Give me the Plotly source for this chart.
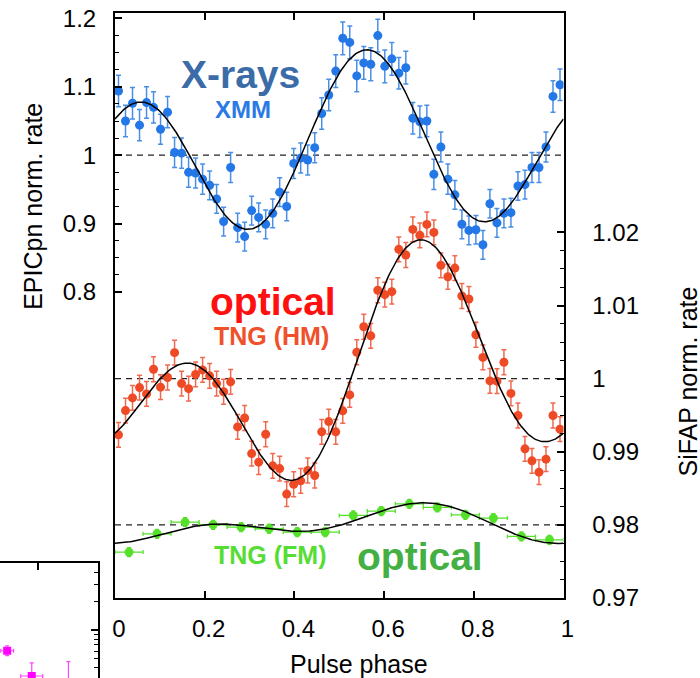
import numpy as np
import plotly.graph_objects as go

# ---------------- data ----------------
N_BINS = 64
phase = (np.arange(N_BINS) + 0.5) / N_BINS

# XMM EPIC-pn normalised rate (left axis)
xray_rate = [1.094, 1.050, 1.076, 1.044, 1.077, 1.070, 1.038, 1.063, 1.004, 1.003,
             0.975, 0.974, 0.965, 0.956, 0.936, 0.903, 0.982, 0.894, 0.881, 0.919,
             0.909, 0.899, 0.915, 0.946, 0.925, 0.988, 0.996, 0.993, 1.011, 1.061,
             1.088, 1.123, 1.171, 1.165, 1.116, 1.135, 1.133, 1.175, 1.130, 1.141,
             1.120, 1.128, 1.054, 1.049, 1.050, 0.972, 1.012, 0.965, 0.942, 0.899,
             0.890, 0.891, 0.869, 0.929, 0.901, 0.915, 0.916, 0.955, 0.957, 0.982,
             0.982, 1.012, 1.086, 1.103]
xray_err = [0.023, 0.023, 0.023, 0.023, 0.023, 0.023, 0.022, 0.023, 0.022, 0.022,
            0.022, 0.022, 0.022, 0.021, 0.021, 0.021, 0.022, 0.021, 0.021, 0.021,
            0.021, 0.021, 0.021, 0.021, 0.021, 0.022, 0.022, 0.022, 0.022, 0.023,
            0.023, 0.024, 0.024, 0.024, 0.023, 0.024, 0.024, 0.024, 0.024, 0.024,
            0.023, 0.024, 0.023, 0.023, 0.023, 0.022, 0.022, 0.022, 0.021, 0.021,
            0.021, 0.021, 0.021, 0.021, 0.021, 0.021, 0.021, 0.021, 0.021, 0.022,
            0.022, 0.022, 0.023, 0.023]

# TNG SiFAP high-resolution mode normalised rate (right axis)
hm_rate = [0.99231, 0.99563, 0.99736, 0.99877, 0.99791, 1.00128, 0.99883, 1.00015, 1.00355, 0.99932,
           0.99863, 1.00058, 1.00119, 1.00038, 0.99932, 0.99820, 0.99956, 0.99340, 0.99462, 0.98975,
           0.98858, 0.99240, 0.98807, 0.98770, 0.98421, 0.98556, 0.98602, 0.98743, 0.98675, 0.99272,
           0.99412, 0.99272, 0.99559, 0.99777, 1.00360, 1.00710, 1.00585, 1.01208, 1.01148, 1.01189,
           1.01768, 1.01690, 1.02041, 1.01959, 1.02109, 1.02000, 1.01549, 1.01393, 1.01512, 1.01130,
           1.01089, 1.00600, 1.00290, 0.99969, 0.99965, 1.00224, 0.99798, 0.99495, 0.99040, 0.98876,
           0.98721, 0.98899, 0.99495, 0.99309]
hm_err = [0.0017] * N_BINS

# TNG SiFAP folding-mode profile, 16 bins, offset to 0.98 (right axis)
FM_BINS = 16
fm_phase = (np.arange(FM_BINS) + 0.5) / FM_BINS
fm_rate = [0.97628, 0.97878, 0.98038, 0.98001, 0.97970, 0.97947, 0.97902, 0.97902,
           0.98129, 0.98189, 0.98288, 0.98238, 0.98138, 0.98093, 0.97842, 0.97796]
fm_err = [0.0006] * FM_BINS
fm_halfbin = [0.5 / FM_BINS] * FM_BINS

# Partial neighbouring panel (log scale)
inset_x = [0.19, 0.84, 1.81]
inset_y = [0.605, 0.328, 0.25]
inset_ey_plus = [0.078, 0.122, 0.214]
inset_ey_minus = [0.068, 0.10, 0.10]
inset_ex = [0.17, 0.29, 0.0]

X_TICKS = [0, 0.2, 0.4, 0.6, 0.8, 1]
X_TICKTEXT = ["0", "0.2", "0.4", "0.6", "0.8", "1"]
L_TICKS = [0.8, 0.9, 1.0, 1.1, 1.2]
L_TICKTEXT = ["0.8", "0.9", "1", "1.1", "1.2"]
R_TICKS = [0.97, 0.98, 0.99, 1.0, 1.01, 1.02]
R_TICKTEXT = ["0.97", "0.98", "0.99", "1", "1.01", "1.02"]
L_MINOR = [0.825, 0.85, 0.875, 0.925, 0.95, 0.975, 1.025, 1.05, 1.075, 1.125, 1.15, 1.175]
R_MINOR = [0.9725, 0.975, 0.9775, 0.9825, 0.985, 0.9875, 0.9925, 0.995, 0.9975,
           1.0025, 1.005, 1.0075, 1.0125, 1.015, 1.0175]


def harmonic_fit(x, y, w, grid, nharm=2):
    """Weighted least-squares Fourier series fit, evaluated on grid."""
    x = np.asarray(x); y = np.asarray(y); w = np.asarray(w)
    def design(p):
        cols = [np.ones_like(p)]
        for k in range(1, nharm + 1):
            cols += [np.cos(2 * np.pi * k * p), np.sin(2 * np.pi * k * p)]
        return np.vstack(cols).T
    A = design(x) / w[:, None]
    coef, *_ = np.linalg.lstsq(A, y / w, rcond=None)
    return design(grid) @ coef


grid = np.linspace(0, 1, 400)
xray_fit = harmonic_fit(phase, xray_rate, xray_err, grid)
hm_fit = harmonic_fit(phase, hm_rate, hm_err, grid)
fm_fit = harmonic_fit(fm_phase, fm_rate, fm_err, grid)

# ---------------- styling ----------------
FONT = "Liberation Sans, Arial, Helvetica, sans-serif"
W, H = 700, 678
X0, X1 = 115, 563.5      # plot frame in pixels
Y0, Y1 = 13, 598

BLUE = "#2377e6"
BLUE_ERR = "#4a8fe6"
RED = "#ef4a26"
RED_ERR = "#f06a50"
GREEN = "#55e02a"

fig = go.Figure()

# reference levels
for yref, level in (("y", 1.0), ("y2", 1.0), ("y2", 0.98)):
    fig.add_shape(type="line", xref="x", yref=yref, x0=0, x1=1, y0=level, y1=level,
                  line=dict(color="#222", width=1.2, dash="6px,5px"), layer="below")

fig.add_trace(go.Scatter(
    x=phase, y=xray_rate, mode="markers", yaxis="y", xaxis="x",
    marker=dict(color=BLUE, size=9),
    error_y=dict(type="data", array=xray_err, color=BLUE_ERR, thickness=1.5, width=2.5)))
fig.add_trace(go.Scatter(x=grid, y=xray_fit, mode="lines", yaxis="y",
                         line=dict(color="black", width=1.5)))

fig.add_trace(go.Scatter(
    x=phase, y=hm_rate, mode="markers", yaxis="y2",
    marker=dict(color=RED, size=9),
    error_y=dict(type="data", array=hm_err, color=RED_ERR, thickness=1.5, width=2.5)))
fig.add_trace(go.Scatter(x=grid, y=hm_fit, mode="lines", yaxis="y2",
                         line=dict(color="black", width=1.5)))

fig.add_trace(go.Scatter(
    x=fm_phase, y=fm_rate, mode="markers", yaxis="y2",
    marker=dict(color=GREEN, size=9),
    error_y=dict(type="data", array=fm_err, color=GREEN, thickness=1.5, width=2),
    error_x=dict(type="data", array=fm_halfbin, color=GREEN, thickness=1.3, width=2)))
fig.add_trace(go.Scatter(x=grid, y=fm_fit, mode="lines", yaxis="y2",
                         line=dict(color="black", width=1.5)))

fig.add_trace(go.Scatter(
    x=inset_x, y=inset_y, mode="markers", xaxis="x3", yaxis="y3",
    marker=dict(color="#ff00ff", size=8, symbol="square"),
    error_y=dict(type="data", symmetric=False, array=inset_ey_plus,
                 arrayminus=inset_ey_minus, color="#ff44ff", thickness=1.2, width=2),
    error_x=dict(type="data", array=inset_ex, color="#ff44ff", thickness=1.2, width=2)))

tickfont = dict(family=FONT, size=24, color="black")
common = dict(showline=True, linewidth=2, linecolor="black", showgrid=False,
              zeroline=False, ticks="inside", tickcolor="black", tickwidth=1.5,
              automargin=False)

fig.update_layout(
    template="none",
    width=W, height=H, margin=dict(l=0, r=0, t=0, b=0, pad=0),
    paper_bgcolor="white", plot_bgcolor="white", showlegend=False,
    xaxis=dict(domain=[X0 / W, X1 / W], range=[0, 1], anchor="y", mirror="ticks",
               tickvals=X_TICKS, ticktext=X_TICKTEXT, ticklen=7, tickfont=tickfont,
               ticklabelstandoff=8, ticklabelshift=4, **common),
    yaxis=dict(domain=[(H - Y1) / H, (H - Y0) / H], range=[0.3524, 1.208], anchor="x",
               tickvals=L_TICKS, ticktext=L_TICKTEXT, ticklen=7, tickfont=tickfont,
               ticklabelstandoff=12,
               minor=dict(tickmode="array", tickvals=L_MINOR, ticklen=4, ticks="inside",
                          tickcolor="black", tickwidth=1.2, showgrid=False),
               **common),
    yaxis2=dict(overlaying="y", side="right", anchor="x", range=[0.97, 1.05],
                tickvals=R_TICKS, ticktext=R_TICKTEXT, ticklen=7, tickfont=tickfont,
                ticklabelstandoff=22,
                minor=dict(tickmode="array", tickvals=R_MINOR, ticklen=4, ticks="inside",
                           tickcolor="black", tickwidth=1.2, showgrid=False),
                **common),
    xaxis3=dict(domain=[0, 98.3 / W], range=[0, 2.6], anchor="y3", side="top",
                tickvals=[1], ticklen=7, showticklabels=False, **common),
    yaxis3=dict(domain=[0, (H - 562.7) / H], range=[-0.505, 0.708], type="log",
                anchor="x3", side="right", tickvals=[1], ticklen=7, showticklabels=False,
                minor=dict(tickmode="array", tickvals=[0.4, 0.5, 0.6, 0.7, 0.8, 0.9, 2, 3, 4, 5],
                           ticklen=4, ticks="inside", tickcolor="black", tickwidth=1.2,
                           showgrid=False),
                **common),
)


def label(text, px, py, size, color, angle=0, bold=True):
    fig.add_annotation(text=f"<b>{text}</b>" if bold else text,
                       x=px / W, y=1 - py / H, xref="paper", yref="paper",
                       xanchor="center", yanchor="middle", showarrow=False,
                       textangle=angle, font=dict(family=FONT, size=size, color=color))


label("X-rays", 240.8, 74.8, 39, "#3b6ca8")
label("XMM", 242.5, 109.4, 24, "#2a7ae6")
label("optical", 272.5, 301.5, 39, "#ff1010")
label("TNG (HM)", 271, 336.3, 25, "#f0502a")
label("TNG (FM)", 269.5, 555.3, 25, "#55dd33")
label("optical", 420, 556.5, 39, "#44b044")

label("EPICpn norm. rate", 32.8, 206, 25, "black", angle=-90, bold=False)
label("SiFAP norm. rate", 687, 381.5, 25, "black", angle=-90, bold=False)
label("Pulse phase", 359, 663.5, 25, "black", bold=False)

fig.write_html("out.html")
